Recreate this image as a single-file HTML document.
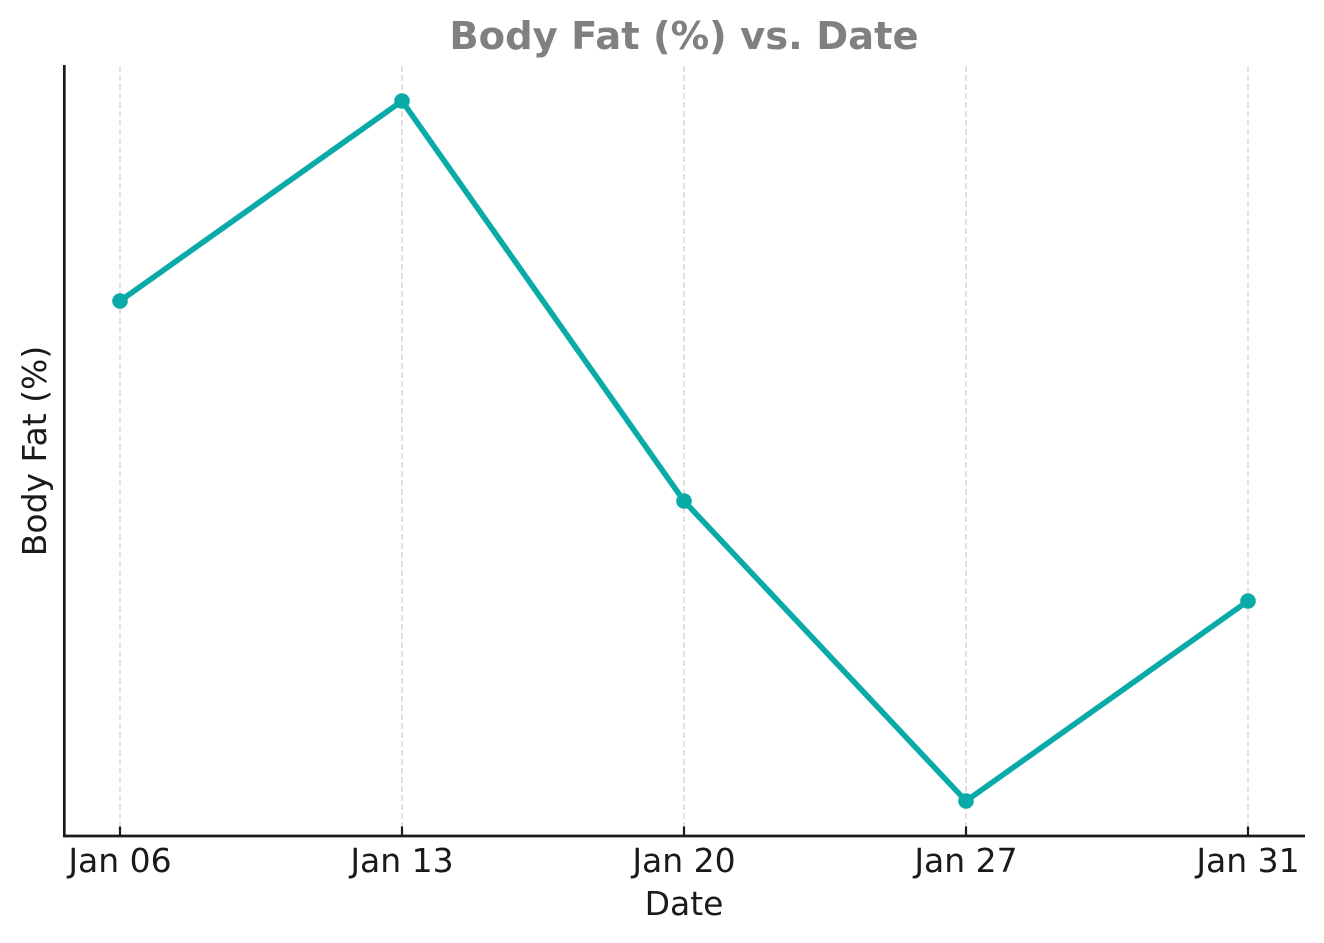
<!DOCTYPE html>
<html>
<head>
<meta charset="utf-8">
<style>
  html, body { margin: 0; padding: 0; background: #ffffff; }
  svg { display: block; }
  text { font-family: "DejaVu Sans", "Liberation Sans", sans-serif; }
</style>
</head>
<body>
<svg width="1324" height="943" viewBox="0 0 1324 943" xmlns="http://www.w3.org/2000/svg">
  <rect x="0" y="0" width="1324" height="943" fill="#ffffff"/>

  <!-- grid lines -->
  <g stroke="#dadada" stroke-width="1.6" stroke-dasharray="6 3">
    <line x1="120" y1="66" x2="120" y2="835"/>
    <line x1="402" y1="66" x2="402" y2="835"/>
    <line x1="684" y1="66" x2="684" y2="835"/>
    <line x1="966" y1="66" x2="966" y2="835"/>
    <line x1="1248" y1="66" x2="1248" y2="835"/>
  </g>

  <!-- spines -->
  <line x1="64.3" y1="65" x2="64.3" y2="837.3" stroke="#1a1a1a" stroke-width="2.7"/>
  <line x1="63" y1="836" x2="1305" y2="836" stroke="#1a1a1a" stroke-width="2.7"/>

  <!-- ticks (inward) -->
  <g stroke="#1a1a1a" stroke-width="2.2">
    <line x1="120" y1="826.5" x2="120" y2="836"/>
    <line x1="402" y1="826.5" x2="402" y2="836"/>
    <line x1="684" y1="826.5" x2="684" y2="836"/>
    <line x1="966" y1="826.5" x2="966" y2="836"/>
    <line x1="1248" y1="826.5" x2="1248" y2="836"/>
  </g>

  <!-- series -->
  <polyline points="120,301 402,101 684,501 966,801 1248,601" fill="none" stroke="#0aaaa8" stroke-width="5.6" stroke-linejoin="round" stroke-linecap="round"/>
  <g fill="#0aaaa8">
    <circle cx="120" cy="301" r="7.8"/>
    <circle cx="402" cy="101" r="7.8"/>
    <circle cx="684" cy="501" r="7.8"/>
    <circle cx="966" cy="801" r="7.8"/>
    <circle cx="1248" cy="601" r="7.8"/>
  </g>

  <!-- tick labels -->
  <g font-size="33" fill="#1a1a1a" text-anchor="middle">
    <text x="120" y="872">Jan 06</text>
    <text x="402" y="872">Jan 13</text>
    <text x="684" y="872">Jan 20</text>
    <text x="966" y="872">Jan 27</text>
    <text x="1248" y="872">Jan 31</text>
  </g>

  <!-- axis labels -->
  <text x="684" y="915" font-size="33" fill="#1a1a1a" text-anchor="middle">Date</text>
  <text x="0" y="0" font-size="33" fill="#1a1a1a" text-anchor="middle" transform="translate(46,451) rotate(-90)">Body Fat (%)</text>

  <!-- title -->
  <text x="684" y="49" font-size="38.5" font-weight="bold" fill="#808080" text-anchor="middle">Body Fat (%) vs. Date</text>
</svg>
</body>
</html>
